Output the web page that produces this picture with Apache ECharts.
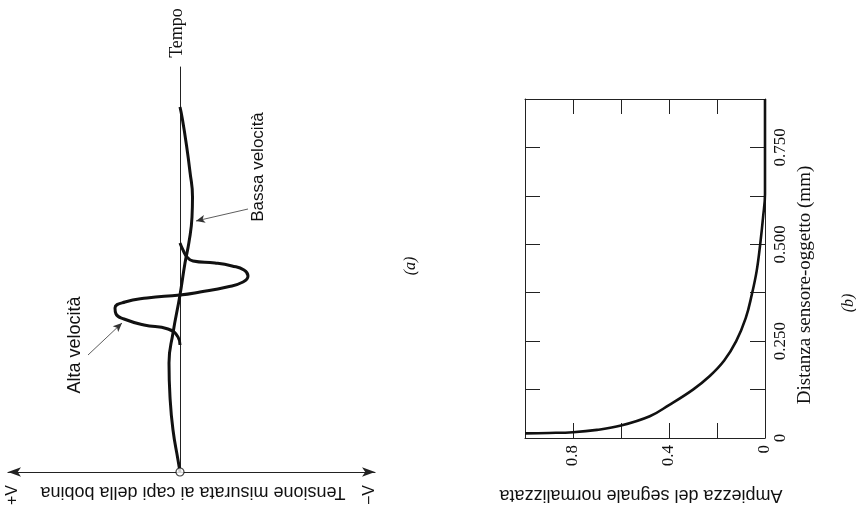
<!DOCTYPE html>
<html>
<head>
<meta charset="utf-8">
<script src="https://cdn.jsdelivr.net/npm/echarts@6/dist/echarts.min.js"></script>
<style>html,body{margin:0;padding:0;background:#fff;}#c{width:856px;height:517px;}</style>
</head>
<body>
<div id="c"></div>
<script>
// Panel (a): coil voltage vs time (arbitrary units; + voltage drawn to the left)
const lowTime  = [0, 1.2, 4.2, 7.5, 10.9, 13.9, 17.7, 20.9, 23.0, 25.5, 27.5, 30.0, 33.0, 35.5, 36.5];
const lowVolt  = [0, 0.2, 0.7, 1.0, 1.1, 0.7, 0, -0.5, -0.9, -1.2, -1.25, -1.0, -0.6, -0.2, 0];
const highTime = [12.7, 13.5, 14.3, 14.7, 15.3, 15.8, 16.4, 17.0, 17.4, 17.7, 18.0, 18.5, 19.0, 19.6, 20.2, 20.6, 20.9, 21.1, 21.5, 22.2, 22.9];
const highVolt = [0, 0.2, 1.2, 3.6, 5.6, 6.4, 6.5, 5.5, 3.3, 0, -2.0, -4.7, -6.3, -6.8, -6.4, -5.2, -3.5, -1.3, -0.7, -0.3, 0];

// Panel (b): normalised signal amplitude vs sensor-object distance (mm)
const distance  = [0.012, 0.013, 0.015, 0.021, 0.032, 0.056, 0.085, 0.125, 0.16, 0.20, 0.25, 0.31, 0.37, 0.43, 0.50, 0.57, 0.63, 0.875];
const amplitude = [1.00, 0.90, 0.80, 0.70, 0.60, 0.48, 0.40, 0.30, 0.23, 0.17, 0.12, 0.08, 0.055, 0.035, 0.02, 0.008, 0.0, 0.0];
const ampLabels  = ['0', '0.4', '0.8'];
const distLabels = ['0', '0.250', '0.500', '0.750'];

const SERIF = 'Liberation Serif';
const SANS = 'Liberation Sans';
const INK = '#111';

const chart = echarts.init(document.getElementById('c'), null, {renderer: 'canvas'});

function ampFmt(v) {
  const k = Math.round(v * 10) / 10;
  const s = k === 0 ? '0' : k.toFixed(1);
  return ampLabels.indexOf(s) >= 0 ? s : '';
}
function distFmt(v) {
  const k = Math.round(v * 1000) / 1000;
  const s = k === 0 ? '0' : k.toFixed(3);
  return distLabels.indexOf(s) >= 0 ? s : '';
}

const boxLine = {show: true, onZero: false, lineStyle: {color: '#222', width: 1}};
const boxTick = {show: true, inside: true, length: 15, lineStyle: {color: '#222', width: 1}};

const option = {
  animation: false,
  backgroundColor: '#fff',
  grid: [
    {left: 8, right: 481, top: 67, bottom: 45},
    {left: 525, right: 91, top: 99, bottom: 79}
  ],
  xAxis: [
    {gridIndex: 0, type: 'value', min: -19.5, max: 17.2, inverse: true,
     axisLine: {show: true, onZero: true, symbol: ['arrow', 'arrow'], symbolSize: [7, 13], lineStyle: {color: '#222', width: 1.2}},
     axisTick: {show: false}, axisLabel: {show: false}, splitLine: {show: false}},
    {gridIndex: 1, type: 'value', min: 0, max: 1.0, interval: 0.2, inverse: true, position: 'bottom',
     axisLine: boxLine, axisTick: boxTick, splitLine: {show: false},
     axisLabel: {show: true, rotate: 90, margin: 7, color: INK, fontFamily: SERIF, fontSize: 17, formatter: ampFmt}},
    {gridIndex: 1, type: 'value', min: 0, max: 1.0, interval: 0.2, inverse: true, position: 'top',
     axisLine: boxLine, axisTick: boxTick, splitLine: {show: false}, axisLabel: {show: false}}
  ],
  yAxis: [
    {gridIndex: 0, type: 'value', min: 0, max: 40.5,
     axisLine: {show: true, onZero: true, lineStyle: {color: '#222', width: 1}},
     axisTick: {show: false}, axisLabel: {show: false}, splitLine: {show: false}},
    {gridIndex: 1, type: 'value', min: 0, max: 0.875, interval: 0.125, position: 'right',
     axisLine: boxLine, axisTick: boxTick, splitLine: {show: false},
     axisLabel: {show: true, rotate: 90, margin: 7, color: INK, fontFamily: SERIF, fontSize: 17, formatter: distFmt}},
    {gridIndex: 1, type: 'value', min: 0, max: 0.875, interval: 0.125, position: 'left',
     axisLine: boxLine, axisTick: boxTick, splitLine: {show: false}, axisLabel: {show: false}}
  ],
  series: [
    {name: 'Bassa velocità', type: 'line', xAxisIndex: 0, yAxisIndex: 0, smooth: 0.5, symbol: 'none',
     data: lowTime.map((t, i) => [lowVolt[i], t]),
     lineStyle: {color: INK, width: 3},
     markLine: {silent: true, symbol: ['none', 'arrow'], symbolSize: [6, 9],
       lineStyle: {color: '#333', width: 0.8, type: 'solid'}, label: {show: false},
       data: [[{coord: [-6.8, 26.3]}, {coord: [-1.6, 25.1]}]]}},
    {name: 'Alta velocità', type: 'line', xAxisIndex: 0, yAxisIndex: 0, smooth: 0.5, symbol: 'none',
     data: highTime.map((t, i) => [highVolt[i], t]),
     lineStyle: {color: INK, width: 3},
     markLine: {silent: true, symbol: ['none', 'arrow'], symbolSize: [6, 9],
       lineStyle: {color: '#333', width: 0.8, type: 'solid'}, label: {show: false},
       data: [[{coord: [9.2, 11.7]}, {coord: [5.8, 14.9]}]]}},
    {name: 'origine', type: 'scatter', xAxisIndex: 0, yAxisIndex: 0, clip: false,
     data: [[0, 0]], symbol: 'circle', symbolSize: 8, z: 10,
     itemStyle: {color: '#fff', borderColor: '#111', borderWidth: 1.2}},
    {name: 'Ampiezza', type: 'line', xAxisIndex: 1, yAxisIndex: 1, smooth: 0.4, symbol: 'none',
     data: distance.map((d, i) => [amplitude[i], d]),
     lineStyle: {color: INK, width: 2.6}}
  ],
  graphic: [
    {type: 'text', x: 177, y: 33, rotation: Math.PI / 2,
     style: {text: 'Tempo', font: '18px "' + SERIF + '"', fill: INK, textAlign: 'center', textVerticalAlign: 'middle'}},
    {type: 'text', x: 258, y: 167, rotation: Math.PI / 2,
     style: {text: 'Bassa velocità', font: '17px "' + SANS + '"', fill: INK, textAlign: 'center', textVerticalAlign: 'middle'}},
    {type: 'text', x: 75, y: 345, rotation: Math.PI / 2,
     style: {text: 'Alta velocità', font: '18px "' + SANS + '"', fill: INK, textAlign: 'center', textVerticalAlign: 'middle'}},
    {type: 'text', x: 411, y: 266, rotation: Math.PI / 2,
     style: {text: '(a)', font: 'italic 16px "' + SERIF + '"', fill: INK, textAlign: 'center', textVerticalAlign: 'middle'}},
    {type: 'text', x: 13, y: 495, rotation: Math.PI / 2,
     style: {text: '+V', font: '16px "' + SANS + '"', fill: INK, textAlign: 'center', textVerticalAlign: 'middle'}},
    {type: 'text', x: 370, y: 495, rotation: Math.PI / 2,
     style: {text: '−V', font: '16px "' + SANS + '"', fill: INK, textAlign: 'center', textVerticalAlign: 'middle'}},
    {type: 'text', x: 193, y: 492, rotation: Math.PI,
     style: {text: 'Tensione misurata ai capi della bobina', font: '18px "' + SANS + '"', fill: INK, textAlign: 'center', textVerticalAlign: 'middle'}},
    {type: 'text', x: 641, y: 495, rotation: Math.PI,
     style: {text: 'Ampiezza del segnale normalizzata', font: '18px "' + SANS + '"', fill: INK, textAlign: 'center', textVerticalAlign: 'middle'}},
    {type: 'text', x: 805, y: 285, rotation: Math.PI / 2,
     style: {text: 'Distanza sensore-oggetto (mm)', font: '19px "' + SERIF + '"', fill: INK, textAlign: 'center', textVerticalAlign: 'middle'}},
    {type: 'text', x: 849, y: 303, rotation: Math.PI / 2,
     style: {text: '(b)', font: 'italic 16px "' + SERIF + '"', fill: INK, textAlign: 'center', textVerticalAlign: 'middle'}}
  ]
};
chart.setOption(option);
</script>
</body>
</html>
